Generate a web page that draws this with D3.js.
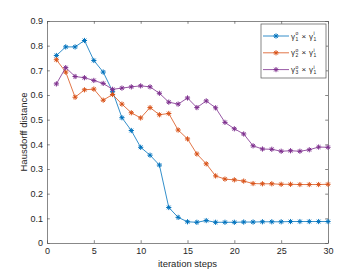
<!DOCTYPE html>
<html>
<head>
<meta charset="utf-8">
<script src="https://cdn.jsdelivr.net/npm/d3@7"></script>
<style>
  body { margin: 0; background: #fff; }
  text { font-family: "Liberation Sans", Arial, sans-serif; fill: #262626; }
</style>
</head>
<body>
<div id="chart"></div>
<script>
// data
var steps = d3.range(1, 31);
var blue = [0.760, 0.795, 0.795, 0.821, 0.740, 0.693, 0.615, 0.508, 0.456, 0.388,
            0.356, 0.316, 0.144, 0.104, 0.086, 0.084, 0.091, 0.084, 0.084, 0.084,
            0.085, 0.085, 0.086, 0.086, 0.086, 0.087, 0.087, 0.087, 0.087, 0.087];
var orange = [0.743, 0.693, 0.591, 0.621, 0.624, 0.579, 0.602, 0.563, 0.528, 0.507,
              0.549, 0.520, 0.525, 0.458, 0.422, 0.361, 0.321, 0.272, 0.259, 0.256,
              0.251, 0.241, 0.240, 0.240, 0.238, 0.238, 0.237, 0.237, 0.237, 0.238];
var purple = [0.645, 0.711, 0.675, 0.670, 0.659, 0.647, 0.623, 0.628, 0.633, 0.637,
              0.633, 0.607, 0.571, 0.563, 0.588, 0.549, 0.576, 0.548, 0.489, 0.463,
              0.442, 0.394, 0.381, 0.380, 0.372, 0.374, 0.372, 0.378, 0.389, 0.388];
var xTicks = [0, 5, 10, 15, 20, 25, 30];
var yTicks = [0, 0.1, 0.2, 0.3, 0.4, 0.5, 0.6, 0.7, 0.8, 0.9];
var seriesNames = [["1", "1"], ["2", "1"], ["3", "1"]];

var series = [
  { values: blue, color: "#0072BD", name: seriesNames[0] },
  { values: orange, color: "#D95319", name: seriesNames[1] },
  { values: purple, color: "#7E2F8E", name: seriesNames[2] }
];

var W = 362, H = 273;
var margin = { top: 21, right: 34, bottom: 30, left: 47 };
var width = W - margin.left - margin.right;
var height = H - margin.top - margin.bottom;

var svg = d3.select("#chart").append("svg")
    .attr("width", W)
    .attr("height", H);

var g = svg.append("g")
    .attr("transform", "translate(" + margin.left + "," + margin.top + ")");

var x = d3.scaleLinear().domain([0, 30]).range([0, width]);
var y = d3.scaleLinear().domain([0, 0.9]).range([height, 0]);

var axisColor = "#555";
var tl = 2.8;

// axes, ticks inward, box on
function styleAxis(sel) {
    sel.select(".domain").attr("stroke", axisColor).attr("stroke-width", 0.7);
    sel.selectAll(".tick line").attr("stroke", axisColor).attr("stroke-width", 0.7);
    sel.selectAll("text").style("font-size", "9px").attr("fill", "#262626");
}

g.append("g")
    .attr("transform", "translate(0," + height + ")")
    .call(d3.axisBottom(x).tickValues(xTicks).tickSizeInner(-tl).tickSizeOuter(0).tickPadding(5))
    .call(styleAxis);

g.append("g")
    .call(d3.axisLeft(y).tickValues(yTicks).tickFormat(d3.format("")).tickSizeInner(-tl).tickSizeOuter(0).tickPadding(4))
    .call(styleAxis);

g.append("g")
    .call(d3.axisTop(x).tickValues(xTicks).tickSizeInner(-tl).tickSizeOuter(0).tickFormat(""))
    .call(styleAxis);

g.append("g")
    .attr("transform", "translate(" + width + ",0)")
    .call(d3.axisRight(y).tickValues(yTicks).tickSizeInner(-tl).tickSizeOuter(0).tickFormat(""))
    .call(styleAxis);

// axis labels
g.append("text")
    .attr("x", width / 2)
    .attr("y", height + 23.5)
    .attr("text-anchor", "middle")
    .style("font-size", "9.5px")
    .text("iteration steps");

g.append("text")
    .attr("transform", "translate(-20.5," + (height / 2) + ") rotate(-90)")
    .attr("text-anchor", "middle")
    .style("font-size", "9.5px")
    .text("Hausdorff distance");

// asterisk marker
function star(r) {
    var d = r * 0.7071;
    return "M" + (-r) + ",0L" + r + ",0M0," + (-r) + "L0," + r +
        "M" + (-d) + "," + (-d) + "L" + d + "," + d +
        "M" + (-d) + "," + d + "L" + d + "," + (-d);
}

var line = d3.line()
    .x(function (d, i) { return x(steps[i]); })
    .y(function (d) { return y(d); });

series.forEach(function (s) {
    g.append("path")
        .attr("d", line(s.values))
        .attr("fill", "none")
        .attr("stroke", s.color)
        .attr("stroke-width", 0.8);

    g.selectAll(null)
        .data(s.values)
        .enter().append("path")
        .attr("transform", function (d, i) { return "translate(" + x(steps[i]) + "," + y(d) + ")"; })
        .attr("d", star(2.6))
        .attr("stroke", s.color)
        .attr("stroke-width", 1)
        .attr("fill", "none");
});

// legend
var lg = g.append("g").attr("transform", "translate(" + (261 - margin.left) + "," + (24 - margin.top) + ")");
lg.append("rect")
    .attr("width", 65)
    .attr("height", 54)
    .attr("fill", "#fff")
    .attr("stroke", axisColor)
    .attr("stroke-width", 0.7);

series.forEach(function (s, i) {
    var yy = 12 + i * 16.8;
    lg.append("line")
        .attr("x1", 2).attr("x2", 28)
        .attr("y1", yy).attr("y2", yy)
        .attr("stroke", s.color).attr("stroke-width", 0.8);
    lg.append("path")
        .attr("transform", "translate(15," + yy + ")")
        .attr("d", star(2.6))
        .attr("stroke", s.color).attr("stroke-width", 1).attr("fill", "none");

    var t = lg.append("g").attr("transform", "translate(30," + (yy + 2.5) + ")");
    t.append("text").attr("x", 0).attr("y", 0).style("font-size", "8px").text("\u03b3");
    t.append("text").attr("x", 4.6).attr("y", 2).style("font-size", "5px").text(s.name[0]);
    t.append("text").attr("x", 4.6).attr("y", -3.5).style("font-size", "5px").text("o");
    t.append("text").attr("x", 10.5).attr("y", 0).style("font-size", "8px").text("\u00d7");
    t.append("text").attr("x", 18).attr("y", 0).style("font-size", "8px").text("\u03b3");
    t.append("text").attr("x", 22.6).attr("y", 2).style("font-size", "5px").text(s.name[1]);
    t.append("text").attr("x", 22.6).attr("y", -3.5).style("font-size", "5px").text("i");
});
</script>
</body>
</html>
